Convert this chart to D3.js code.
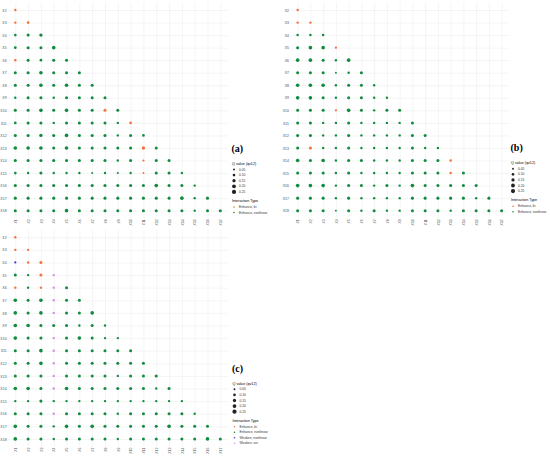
<!DOCTYPE html>
<html>
<head>
<meta charset="utf-8">
<script src="https://cdn.jsdelivr.net/npm/d3@7"></script>
<style>
  body { margin: 0; background: #fff; }
  svg { display: block; }
</style>
</head>
<body>
<svg id="chart"></svg>
<script>
let rowLabels = d3.range(2, 19).map(i => 'X' + i);
let colLabels = d3.range(1, 18).map(i => 'X' + i);
let sizeTicks = [0.05, 0.10, 0.15, 0.20, 0.25];
let typeNames = ['Enhance, bi', 'Enhance, nonlinear', 'Weaken, nonlinear', 'Weaken, uni'];
let typeCodes = ['O', 'G', 'B', 'V'];
let typeColors = ['#F4733A', '#118C3E', '#3B3BD0', '#DD88EE'];

// q values per row (X2..X18), first entry is column X1
let qA = [
  [0.08],
  [0.08, 0.10],
  [0.10, 0.13, 0.16],
  [0.10, 0.13, 0.13, 0.19],
  [0.08, 0.13, 0.10, 0.13, 0.13],
  [0.13, 0.13, 0.19, 0.13, 0.13, 0.13],
  [0.13, 0.13, 0.19, 0.13, 0.19, 0.13, 0.13],
  [0.08, 0.13, 0.13, 0.08, 0.13, 0.13, 0.13, 0.13],
  [0.13, 0.13, 0.19, 0.13, 0.19, 0.13, 0.13, 0.13, 0.13],
  [0.10, 0.13, 0.13, 0.08, 0.13, 0.13, 0.13, 0.13, 0.08, 0.10],
  [0.13, 0.13, 0.16, 0.13, 0.19, 0.13, 0.13, 0.13, 0.08, 0.13, 0.10],
  [0.19, 0.19, 0.19, 0.13, 0.19, 0.13, 0.13, 0.13, 0.13, 0.13, 0.16, 0.13],
  [0.13, 0.13, 0.13, 0.13, 0.13, 0.13, 0.13, 0.13, 0.08, 0.13, 0.07, 0.13, 0.13],
  [0.10, 0.08, 0.13, 0.08, 0.08, 0.08, 0.05, 0.08, 0.06, 0.08, 0.05, 0.13, 0.13, 0.08],
  [0.13, 0.13, 0.13, 0.13, 0.13, 0.13, 0.13, 0.13, 0.13, 0.13, 0.13, 0.19, 0.13, 0.13, 0.08],
  [0.13, 0.13, 0.13, 0.13, 0.13, 0.13, 0.13, 0.13, 0.13, 0.13, 0.13, 0.13, 0.13, 0.19, 0.08, 0.13],
  [0.13, 0.13, 0.13, 0.13, 0.19, 0.13, 0.13, 0.13, 0.13, 0.13, 0.13, 0.13, 0.13, 0.13, 0.08, 0.13, 0.13]
];
// O = Enhance bi, G = Enhance nonlinear, B = Weaken nonlinear, V = Weaken uni
let typeA = [
  'O', 'OO', 'GGG', 'GGGG', 'OGGGG', 'GGGGGG', 'GGGGGGG', 'GGGGGGGG',
  'GGGGGGGOG', 'GGGGGGGGGO', 'GGGGGGGGGGG', 'GGGGGGGGGGOG', 'GGGGGGGGGGOGG',
  'GGGGGGGGGGOGGG', 'GGGGGGGGGGGGGGG', 'GGGGGGGGGGGGGGGG', 'GGGGGGGGGGGGGGGGG'
];

let qB = [
  [0.08],
  [0.08, 0.08],
  [0.09, 0.09, 0.09],
  [0.13, 0.19, 0.19, 0.07],
  [0.19, 0.19, 0.13, 0.08, 0.19],
  [0.13, 0.13, 0.13, 0.05, 0.08, 0.13],
  [0.19, 0.19, 0.19, 0.08, 0.13, 0.13, 0.08],
  [0.19, 0.19, 0.13, 0.08, 0.13, 0.13, 0.08, 0.08],
  [0.13, 0.13, 0.13, 0.07, 0.19, 0.13, 0.08, 0.13, 0.13],
  [0.13, 0.13, 0.08, 0.08, 0.13, 0.08, 0.08, 0.08, 0.08, 0.13],
  [0.13, 0.13, 0.08, 0.08, 0.13, 0.08, 0.08, 0.08, 0.08, 0.13, 0.13],
  [0.13, 0.13, 0.08, 0.08, 0.13, 0.08, 0.08, 0.08, 0.08, 0.13, 0.08, 0.08],
  [0.19, 0.13, 0.19, 0.08, 0.13, 0.13, 0.08, 0.08, 0.08, 0.13, 0.13, 0.13, 0.08],
  [0.13, 0.13, 0.13, 0.08, 0.13, 0.08, 0.08, 0.08, 0.08, 0.13, 0.13, 0.13, 0.08, 0.13],
  [0.19, 0.19, 0.19, 0.08, 0.13, 0.13, 0.08, 0.13, 0.08, 0.19, 0.13, 0.13, 0.13, 0.13, 0.13],
  [0.13, 0.13, 0.13, 0.08, 0.13, 0.08, 0.08, 0.08, 0.08, 0.13, 0.13, 0.13, 0.13, 0.13, 0.08, 0.13],
  [0.13, 0.13, 0.13, 0.05, 0.13, 0.08, 0.13, 0.08, 0.08, 0.13, 0.13, 0.13, 0.08, 0.13, 0.13, 0.13, 0.13]
];
let typeB = [
  'O', 'OO', 'GGG', 'GGGO', 'GGGGG', 'GGGGGG', 'GGGGGGG', 'GGGGGGGG',
  'GGGOGGGGG', 'GGGGGGGGGG', 'GGGGGGGGGGG', 'GOGGGGGGGGGG', 'GGGGGGGGGGGGO',
  'GGGGGGGGGGGGOG', 'GGGGGGGGGGGGGGG', 'GGGGGGGGGGGGGGGG', 'GGGGGGGGGGGGGGGGG'
];

let qC = [
  [0.08],
  [0.08, 0.08],
  [0.07, 0.08, 0.13],
  [0.13, 0.08, 0.13, 0.08],
  [0.08, 0.08, 0.08, 0.08, 0.13],
  [0.19, 0.13, 0.19, 0.08, 0.13, 0.13],
  [0.19, 0.13, 0.19, 0.08, 0.13, 0.13, 0.19],
  [0.19, 0.19, 0.13, 0.13, 0.13, 0.08, 0.13, 0.08],
  [0.19, 0.13, 0.13, 0.08, 0.13, 0.19, 0.13, 0.08, 0.08],
  [0.13, 0.13, 0.19, 0.08, 0.13, 0.13, 0.13, 0.13, 0.13, 0.13],
  [0.13, 0.13, 0.19, 0.08, 0.13, 0.13, 0.13, 0.13, 0.13, 0.13, 0.13],
  [0.13, 0.13, 0.13, 0.08, 0.13, 0.13, 0.13, 0.13, 0.08, 0.13, 0.13, 0.13],
  [0.19, 0.19, 0.13, 0.08, 0.19, 0.13, 0.13, 0.13, 0.13, 0.13, 0.13, 0.08, 0.13],
  [0.08, 0.08, 0.13, 0.08, 0.08, 0.08, 0.08, 0.08, 0.08, 0.08, 0.08, 0.08, 0.08, 0.08],
  [0.13, 0.13, 0.13, 0.08, 0.13, 0.13, 0.13, 0.13, 0.08, 0.13, 0.13, 0.13, 0.13, 0.13, 0.08],
  [0.19, 0.13, 0.13, 0.08, 0.19, 0.13, 0.19, 0.13, 0.13, 0.13, 0.13, 0.13, 0.19, 0.13, 0.13, 0.13],
  [0.19, 0.13, 0.13, 0.08, 0.13, 0.13, 0.13, 0.13, 0.08, 0.13, 0.13, 0.13, 0.13, 0.13, 0.13, 0.19, 0.13]
];
let typeC = [
  'O', 'OO', 'BOO', 'GGOV', 'OGOVG', 'GGGVGG', 'GGGVGGG', 'GGGGGGGG',
  'GGGVGGGGG', 'GGGVGGGGGG', 'GGGVGGGGGGG', 'GGGVGGGGGGGG', 'GGGVGGGGGGGGG',
  'GGGGGGGGGGGGGG', 'GGGVGGGGGGGGGGG', 'GGGGGGGGGGGGGGGG', 'GGGGGGGGGGGGGGGGG'
];

// panel boxes and legend anchors
let panels = [
  {tag: '(a)', q: qA, type: typeA, left: 7.6, top: 2.5, w: 220.4, h: 215.7, lx: 232, ly: 163.5, nTypes: 2},
  {tag: '(b)', q: qB, type: typeB, left: 290.0, top: 2.5, w: 219.3, h: 215.7, lx: 511, ly: 162.7, nTypes: 2},
  {tag: '(c)', q: qC, type: typeC, left: 7.6, top: 229.7, w: 220.4, h: 216.8, lx: 232.5, ly: 383.3, nTypes: 4}
];

let sans = "'Liberation Sans', Arial, sans-serif";

let svg = d3.select('#chart')
  .attr('width', 550)
  .attr('height', 456);

let rScale = d3.scaleSqrt().domain([0, 0.25]).range([0, 2.1]);
let colorOf = d3.scaleOrdinal().domain(typeCodes).range(typeColors);

panels.forEach((p) => {
  let xScale = d3.scalePoint().domain(colLabels).range([p.left, p.left + p.w]).padding(0.6);
  let yScale = d3.scalePoint().domain(rowLabels).range([p.top, p.top + p.h]).padding(0.6);

  let g = svg.append('g');

  // horizontal grid + row labels
  let ya = g.append('g')
    .attr('transform', `translate(${p.left},0)`)
    .call(d3.axisLeft(yScale).tickSize(-p.w).tickPadding(1));
  // vertical grid + column labels
  let xa = g.append('g')
    .attr('transform', `translate(0,${p.top + p.h})`)
    .call(d3.axisBottom(xScale).tickSize(-p.h).tickPadding(1));

  [ya, xa].forEach((a) => {
    a.attr('font-family', sans);
    a.select('.domain').remove();
    a.selectAll('line').attr('stroke', '#ebebeb').attr('stroke-width', 0.5);
    a.selectAll('text')
      .attr('font-size', 3.5)
      .attr('fill', '#4d4d4d');
  });
  xa.selectAll('text')
    .attr('transform', 'rotate(-90)')
    .attr('text-anchor', 'end')
    .attr('x', -1)
    .attr('y', 0)
    .attr('dy', '0.35em');

  // flatten the triangle into points
  let points = [];
  p.q.forEach((row, i) => {
    row.forEach((v, j) => {
      points.push({row: rowLabels[i], col: colLabels[j], q: v, t: p.type[i][j]});
    });
  });

  g.append('g').selectAll('circle')
    .data(points)
    .enter().append('circle')
    .attr('cx', (d) => xScale(d.col))
    .attr('cy', (d) => yScale(d.row))
    .attr('r', (d) => rScale(d.q))
    .attr('fill', (d) => colorOf(d.t));

  // legend
  let lg = g.append('g').attr('font-family', sans);
  lg.append('text')
    .text(p.tag)
    .attr('x', p.lx - 0.5)
    .attr('y', p.ly - 11.5)
    .attr('font-family', "'Liberation Serif', 'Times New Roman', serif")
    .attr('font-weight', 'bold')
    .attr('font-size', 10)
    .attr('fill', '#000');

  lg.append('text')
    .text('Q value (qv12)')
    .attr('x', p.lx)
    .attr('y', p.ly)
    .attr('dy', '0.35em')
    .attr('font-size', 3.7)
    .attr('fill', '#000');

  sizeTicks.forEach((v, i) => {
    let cy = p.ly + 6 + i * 5.6;
    lg.append('circle').attr('cx', p.lx + 2).attr('cy', cy).attr('r', rScale(v)).attr('fill', '#222');
    lg.append('text').text(v.toFixed(2))
      .attr('x', p.lx + 7).attr('y', cy).attr('dy', '0.35em')
      .attr('font-size', 3.3).attr('fill', '#333');
  });

  lg.append('text')
    .text('Interaction Type')
    .attr('x', p.lx)
    .attr('y', p.ly + 37.5)
    .attr('dy', '0.35em')
    .attr('font-size', 3.7)
    .attr('fill', '#000');

  typeNames.slice(0, p.nTypes).forEach((name, i) => {
    let cy = p.ly + 43.5 + i * 5.5;
    lg.append('circle').attr('cx', p.lx + 2).attr('cy', cy).attr('r', 0.8).attr('fill', typeColors[i]);
    lg.append('text').text(name)
      .attr('x', p.lx + 7).attr('y', cy).attr('dy', '0.35em')
      .attr('font-size', 3.3).attr('fill', '#333');
  });
});
</script>
</body>
</html>
